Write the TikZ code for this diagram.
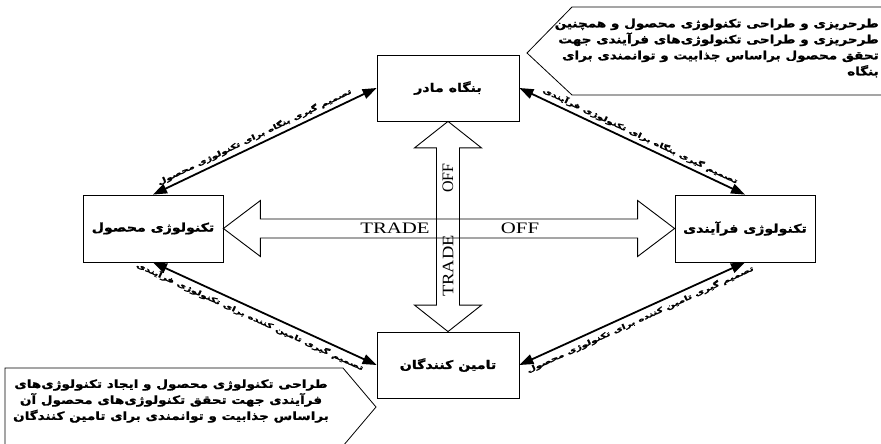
\documentclass[tikz,border=0pt]{standalone}
\usepackage{fontspec}
\setmainfont{Liberation Serif}
\newfontfamily\fa[Script=Arabic, FakeStretch=1.2, FakeBold=1.2]{DejaVu Sans Bold}
\newfontfamily\fawide[Script=Arabic, FakeStretch=1.5, FakeBold=1.2]{DejaVu Sans Bold}
\TeXXeTstate=1
\usetikzlibrary{calc, arrows.meta}

\tikzset{
  box/.style={draw, line width=0.8pt, minimum width=142pt, minimum height=66pt,
    font=\fa\fontsize{11.8}{14}\selectfont},
  link/.style={line width=1.8pt, arrows={Triangle[length=14pt,width=10pt]-Triangle[length=14pt,width=10pt]}},
  linklabel/.style={sloped, inner sep=1pt, font=\fawide\fontsize{7}{8}\selectfont},
  hollow/.style={draw, line width=0.9pt},
  callout/.style={draw, line width=0.8pt},
  notetext/.style={inner sep=0pt, font=\fa\fontsize{11.3}{16}\selectfont},
  tradeoff/.style={inner sep=0pt, font=\fontsize{16}{16}\selectfont}
}

\begin{document}
\begin{tikzpicture}[x=1pt, y=-1pt]
    \useasboundingbox (0, 0) rectangle (881, 444);
    \node [box] (mother) at (448, 88) {\beginR بنگاه مادر\endR};
    \node [box, minimum width=140pt, minimum height=67pt] (prodtech) at (153, 228.5) {\beginR تکنولوژی محصول\endR};
    \node [box, minimum width=140pt, minimum height=67pt] (proctech) at (745, 228.5) {\beginR تکنولوژی فرآیندی\endR};
    \node [box] (supplier) at (448, 365) {\beginR تامین کنندگان\endR};
    \draw [hollow] (prodtech.east) -- ++(37, -28) -- ++(0, 18.5) -- ($(proctech.west)+(-37, -9.5)$)
        -- ++(0, -18.5) -- (proctech.west) -- ++(-37, 28) -- ++(0, -18.5)
        -- ($(prodtech.east)+(37, 9.5)$) -- ++(0, 18.5) -- cycle;
    \draw [hollow] (mother.south) -- ++(33.5, 26.5) -- ++(-22, 0) -- ($(supplier.north)+(11.5, -26.5)$)
        -- ++(22, 0) -- (supplier.north) -- ++(-33.5, -26.5) -- ++(22, 0)
        -- ($(mother.south)+(-11.5, 26.5)$) -- ++(-22, 0) -- cycle;
    \node [tradeoff] (htrade) at (395, 228) {\scalebox{1.3}[1]{TRADE}};
    \node [tradeoff] (hoff) at (520, 228) {\scalebox{1.3}[1]{OFF}};
    \node [tradeoff, rotate=90] (voff) at (448, 178) {OFF};
    \node [tradeoff, rotate=90] (vtrade) at (448, 266) {\scalebox{1.15}[1]{TRADE}};
    \draw [link] (prodtech.north) -- node [linklabel, pos=0.47, above=2.5pt]
        {\beginR تصمیم گیری بنگاه برای تکنولوژی محصول\endR} (mother.west);
    \draw [link] (mother.east) -- node [linklabel, pos=0.52, above=2.5pt]
        {\beginR تصمیم گیری بنگاه برای تکنولوژی فرآیندی\endR} (proctech.north);
    \draw [link] (prodtech.south) -- node [linklabel, pos=0.45, below=2.5pt]
        {\beginR تصمیم گیری تامین کننده برای تکنولوژی فرآیندی\endR} (supplier.west);
    \draw [link] (supplier.east) -- node [linklabel, pos=0.52, below=2.5pt]
        {\beginR تصمیم گیری تامین کننده برای تکنولوژی محصول\endR} (proctech.south);
    \draw [callout] (881, 7) -- (572, 7) -- (527, 53) -- (572, 95) -- (881, 95);
    \node [notetext, align=right, anchor=east] (topnote) at (879, 48) {%
        \beginR طرحریزی و طراحی تکنولوژی محصول و همچنین\endR\\
        \beginR طرحریزی و طراحی تکنولوژی‌های فرآیندی جهت\endR\\
        \beginR تحقق محصول براساس جذابیت و توانمندی برای\endR\\
        \beginR بنگاه\endR};
    \draw [callout] (5, 444) -- (5, 368) -- (343, 368) -- (376, 407) -- (343, 446);
    \node [notetext, align=center] (botnote) at (171, 401) {%
        \beginR طراحی تکنولوژی محصول و ایجاد تکنولوژی‌های\endR\\
        \beginR فرآیندی جهت تحقق تکنولوژی‌های محصول آن\endR\\
        \beginR براساس جذابیت و توانمندی برای تامین کنندگان\endR};
\end{tikzpicture}
\end{document}
